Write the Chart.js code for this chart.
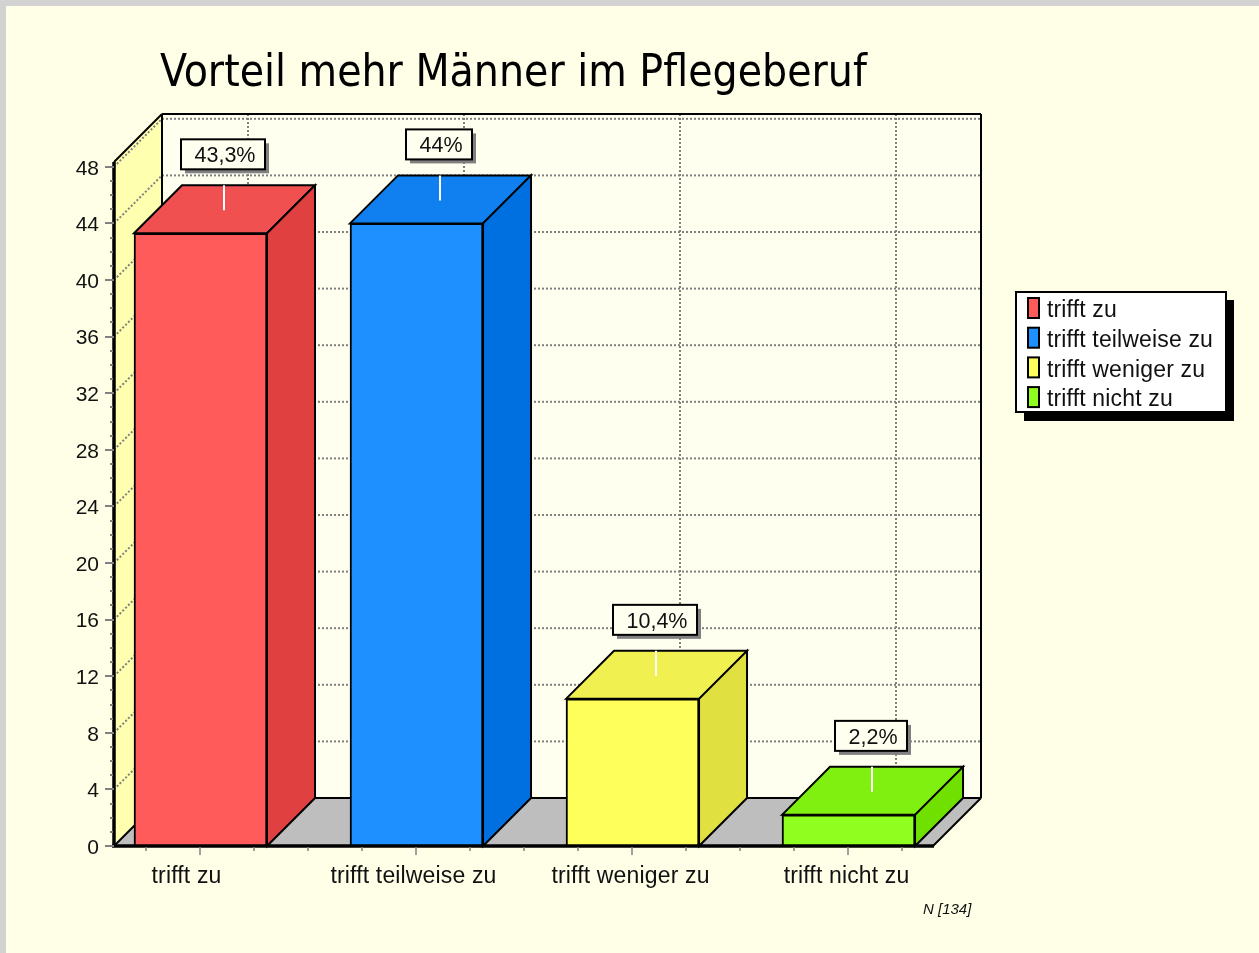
<!DOCTYPE html>
<html lang="de">
    <head>
        <meta charset="UTF-8" />
        <title>Vorteil mehr Männer im Pflegeberuf</title>
        <script src="https://cdn.jsdelivr.net/npm/chart.js@4"></script>
        <style>
            html, body { margin: 0; padding: 0; overflow: hidden; background: #d2d2d2; }
            canvas { display: block; }
        </style>
    </head>
    <body>
        <canvas id="myChart" width="1259" height="953"></canvas>

        <script>
            const chartTitle = "Vorteil mehr Männer im Pflegeberuf";
            const categories = ["trifft zu", "trifft teilweise zu", "trifft weniger zu", "trifft nicht zu"];
            const values = [43.3, 44, 10.4, 2.2];
            const valueLabels = ["43,3%", "44%", "10,4%", "2,2%"];
            const yTicks = [0, 4, 8, 12, 16, 20, 24, 28, 32, 36, 40, 44, 48];
            const note = "N [134]";

            const frontColors = ["#ff5b5b", "#1e90ff", "#ffff5b", "#90ff20"];
            const topColors = ["#f05050", "#1080f0", "#f0f050", "#80f010"];
            const sideColors = ["#e04040", "#0070e0", "#e0e040", "#70e000"];

            const DEPTH = 48;
            const ARIAL = '"Liberation Sans", Arial, sans-serif';
            // the source chart places its category captions a bit left of the major ticks
            const captionNudge = [-14, -3, -2, -2];

            function poly(ctx, pts, fill, stroke, lw) {
                ctx.beginPath();
                pts.forEach((p, i) => (i ? ctx.lineTo(p[0], p[1]) : ctx.moveTo(p[0], p[1])));
                ctx.closePath();
                if (fill) {
                    ctx.fillStyle = fill;
                    ctx.fill();
                }
                if (stroke) {
                    ctx.strokeStyle = stroke;
                    ctx.lineWidth = lw || 2;
                    ctx.stroke();
                }
            }

            function line(ctx, x1, y1, x2, y2, color, lw, dash) {
                ctx.save();
                ctx.beginPath();
                ctx.strokeStyle = color;
                ctx.lineWidth = lw;
                ctx.setLineDash(dash || []);
                ctx.moveTo(x1, y1);
                ctx.lineTo(x2, y2);
                ctx.stroke();
                ctx.restore();
            }

            const room3dPlugin = {
                id: "room3d",
                beforeDraw(chart) {
                    const ctx = chart.ctx;
                    ctx.save();
                    ctx.fillStyle = "#d2d2d2";
                    ctx.fillRect(0, 0, chart.width, chart.height);
                    ctx.fillStyle = "#ffffe8";
                    ctx.fillRect(6, 6, chart.width - 6, chart.height - 6);
                    ctx.restore();
                },
                beforeDatasetsDraw(chart) {
                    const ctx = chart.ctx;
                    const a = chart.chartArea;
                    const xs = chart.scales.x;
                    const ys = chart.scales.y;
                    const l = a.left, r = a.right, t = a.top, b = a.bottom;
                    const dot = [2, 2];

                    ctx.save();
                    // back wall, side wall, floor
                    poly(ctx, [[l + DEPTH, t - DEPTH], [r + DEPTH, t - DEPTH], [r + DEPTH, b - DEPTH], [l + DEPTH, b - DEPTH]], "#fffff0");
                    poly(ctx, [[l, t], [l + DEPTH, t - DEPTH], [l + DEPTH, b - DEPTH], [l, b]], "#ffffb0");
                    poly(ctx, [[l, b], [l + DEPTH, b - DEPTH], [r + DEPTH, b - DEPTH], [r, b]], "#bebebe");

                    // dotted grid
                    yTicks.forEach((v) => {
                        const y = ys.getPixelForValue(v);
                        if (v > 0) {
                            line(ctx, l, y, l + DEPTH, y - DEPTH, "#808080", 2, dot);
                            line(ctx, l + DEPTH, y - DEPTH, r + DEPTH, y - DEPTH, "#808080", 2, dot);
                        }
                    });
                    categories.forEach((c, i) => {
                        const x = Math.round(xs.getPixelForValue(i)) - 1 + DEPTH;
                        line(ctx, x, t - DEPTH, x, b - DEPTH, "#808080", 2, dot);
                    });

                    // frame
                    line(ctx, l + DEPTH, t - DEPTH, r + DEPTH, t - DEPTH, "#000", 2);
                    line(ctx, r + DEPTH, t - DEPTH, r + DEPTH, b - DEPTH, "#000", 2);
                    line(ctx, l + DEPTH, t - DEPTH, l + DEPTH, b - DEPTH, "#000", 2);
                    line(ctx, l + DEPTH, b - DEPTH, r + DEPTH, b - DEPTH, "#000", 2);
                    line(ctx, l, t, l + DEPTH, t - DEPTH, "#000", 2);
                    line(ctx, l, b, l + DEPTH, b - DEPTH, "#000", 2);
                    line(ctx, r, b, r + DEPTH, b - DEPTH, "#000", 2);
                    line(ctx, l, t, l, b + 1, "#000", 3.5);
                    line(ctx, l - 2, b, r + 1, b, "#000", 3.5);

                    // axis ticks, drawn over the thick axes
                    for (let v = 0; v <= 48; v++) {
                        const y = Math.round(ys.getPixelForValue(v));
                        if (v % 4 === 0) {
                            line(ctx, l - 9, y, l, y, "#808080", 2);
                        } else {
                            line(ctx, l - 4, y, l - 1, y, "#808080", 2);
                        }
                    }
                    for (let q = -1; q <= 13; q++) {
                        const x = Math.round(xs.getPixelForValue(q / 4)) - 1;
                        if (x > l && x < r) {
                            line(ctx, x, b + 1, x, q % 4 === 0 ? b + 9 : b + 5, "#808080", 1.5);
                        }
                    }

                    // top and side faces of the bars
                    chart.getDatasetMeta(0).data.forEach((bar, i) => {
                        const x0 = bar.x - bar.width / 2;
                        const x1 = bar.x + bar.width / 2;
                        const y = bar.y;
                        const base = bar.base;
                        poly(ctx, [[x0, y], [x0 + DEPTH, y - DEPTH], [x1 + DEPTH, y - DEPTH], [x1, y]], topColors[i], "#000", 2);
                        poly(ctx, [[x1, y], [x1 + DEPTH, y - DEPTH], [x1 + DEPTH, base - DEPTH], [x1, base]], sideColors[i], "#000", 2);
                    });
                    ctx.restore();
                },
                afterDatasetsDraw(chart) {
                    const ctx = chart.ctx;
                    const xs = chart.scales.x;
                    const b = chart.chartArea.bottom;
                    ctx.save();

                    // value labels with leader line
                    ctx.font = "21.5px " + ARIAL;
                    chart.getDatasetMeta(0).data.forEach((bar, i) => {
                        const cx = Math.round(bar.x + 22);
                        const backTop = bar.y - DEPTH;
                        line(ctx, cx + 1, backTop, cx + 1, backTop + 25, "#ffffff", 2);
                        const w = Math.round(ctx.measureText(valueLabels[i]).width) + 23;
                        const h = 30;
                        const bx = cx - w / 2;
                        const by = backTop - 16 - h;
                        ctx.fillStyle = "#808080";
                        ctx.fillRect(bx + 4, by + 4, w, h);
                        ctx.fillStyle = "#fffff0";
                        ctx.fillRect(bx, by, w, h);
                        ctx.strokeStyle = "#000";
                        ctx.lineWidth = 2;
                        ctx.strokeRect(bx, by, w, h);
                        ctx.fillStyle = "#111";
                        ctx.textAlign = "center";
                        ctx.textBaseline = "middle";
                        ctx.fillText(valueLabels[i], bx + w / 2 + 2, by + h / 2 + 2);
                    });

                    // category captions
                    ctx.font = "23px " + ARIAL;
                    ctx.letterSpacing = "0.15px";
                    ctx.fillStyle = "#111";
                    ctx.textAlign = "center";
                    ctx.textBaseline = "middle";
                    categories.forEach((c, i) => {
                        ctx.fillText(c, xs.getPixelForValue(i) + captionNudge[i], b + 31);
                    });
                    ctx.letterSpacing = "0px";

                    // title
                    ctx.font = '44px "DejaVu Sans Condensed", "DejaVu Sans", sans-serif';
                    ctx.fillStyle = "#000";
                    ctx.textAlign = "left";
                    ctx.fillText(chartTitle, 160, 75);

                    // legend
                    ctx.fillStyle = "#000";
                    ctx.fillRect(1024, 300, 210, 121);
                    ctx.fillStyle = "#fff";
                    ctx.fillRect(1016, 292, 210, 120);
                    ctx.strokeStyle = "#000";
                    ctx.lineWidth = 2;
                    ctx.strokeRect(1016, 292, 210, 120);
                    ctx.font = "23px " + ARIAL;
                    ctx.letterSpacing = "0.15px";
                    ctx.textBaseline = "middle";
                    categories.forEach((c, i) => {
                        const cy = 308 + i * 29.7;
                        ctx.fillStyle = frontColors[i];
                        ctx.fillRect(1028, cy - 10, 11, 20);
                        ctx.strokeRect(1028, cy - 10, 11, 20);
                        ctx.fillStyle = "#111";
                        ctx.fillText(c, 1047, cy + 3);
                    });
                    ctx.letterSpacing = "0px";

                    // sample size note
                    ctx.font = "italic 15px " + ARIAL;
                    ctx.fillStyle = "#111";
                    ctx.fillText(note, 923, 910);
                    ctx.restore();
                },
            };

            const config = {
                type: "bar",
                data: {
                    datasets: [
                        {
                            label: chartTitle,
                            data: categories.map((c, i) => ({ x: i, y: values[i] })),
                            backgroundColor: frontColors,
                            borderColor: "#000",
                            borderWidth: 2,
                            borderSkipped: false,
                            barThickness: 133,
                        },
                    ],
                },
                plugins: [room3dPlugin],
                options: {
                    responsive: false,
                    animation: false,
                    layout: { padding: { left: 64, right: 326, top: 162, bottom: 47 } },
                    plugins: { legend: { display: false }, title: { display: false }, tooltip: { enabled: false } },
                    scales: {
                        x: {
                            type: "linear",
                            offset: false,
                            min: -0.4005,
                            max: 3.391,
                            grid: { display: false, offset: false },
                            border: { display: false },
                            ticks: { display: false },
                            afterFit(scale) {
                                scale.height = 60;
                            },
                        },
                        y: {
                            min: 0,
                            max: 48.34,
                            grid: { display: false, drawTicks: false },
                            border: { display: false },
                            afterBuildTicks(scale) {
                                scale.ticks = yTicks.map((v) => ({ value: v }));
                            },
                            afterFit(scale) {
                                scale.width = 50;
                            },
                            ticks: {
                                autoSkip: false,
                                padding: 15,
                                labelOffset: 2,
                                color: "#111",
                                font: { family: "'Liberation Sans', Arial, sans-serif", size: 21 },
                            },
                        },
                    },
                },
            };

            const myChart = new Chart(document.getElementById("myChart"), config);
        </script>
    </body>
</html>
